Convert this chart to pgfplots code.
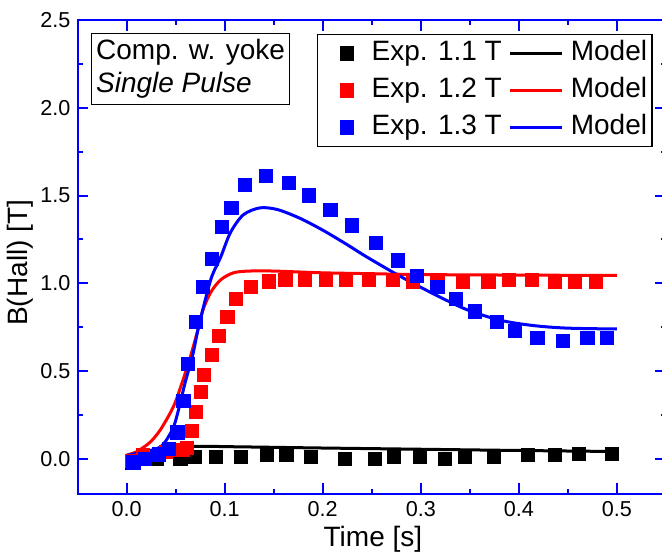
\documentclass[border=0pt]{standalone}
\usepackage{fontspec}
\setmainfont{Liberation Sans}
\usepackage{pgfplots}
\pgfplotsset{compat=1.18}
\definecolor{oblue}{RGB}{0,0,255}
\definecolor{ored}{RGB}{255,0,0}
\pgfplotsset{
 markleg/.style={legend image code/.code={\path (0pt,0pt) (24.5pt,0pt); \draw[##1] plot coordinates {(14pt,0pt)};}},
 lineleg/.style={legend image code/.code={\path (0pt,0pt) (29pt,0pt); \draw[##1] (1.5pt,0pt) -- (27.5pt,0pt);}},
}
\begin{document}
\begin{tikzpicture}
\begin{axis}[
  at={(0pt,0pt)}, anchor=south west,
  scale only axis, width=294.25pt, height=237pt,
  xmin=-0.05, xmax=0.55, ymin=-0.2, ymax=2.5,
  xtick={0,0.1,0.2,0.3,0.4,0.5}, ytick={0,0.5,1,1.5,2,2.5},
  minor x tick num=1, minor y tick num=1,
  tick align=inside,
  major tick length=5.3pt, minor tick length=2.7pt,
  axis line style={oblue, line width=1pt},
  every tick/.style={oblue, line width=1pt},
  /pgf/number format/assume math mode=true,
  xticklabel style={/pgf/number format/fixed,/pgf/number format/fixed zerofill,/pgf/number format/precision=1, font=\fontsize{10.8}{13}\selectfont},
  yticklabel style={/pgf/number format/fixed,/pgf/number format/fixed zerofill,/pgf/number format/precision=1, font=\fontsize{10.8}{13}\selectfont},
  xlabel={Time [s]}, ylabel={B(Hall) [T]},
  label style={font=\fontsize{14}{16}\selectfont},
  xlabel style={at={(axis description cs:0.502,-0.095)}, anchor=center},
  ylabel style={at={(axis description cs:-0.0977,0.488)}, anchor=center},
  legend columns=2,
  legend cell align=left,
  legend style={
    at={(axis description cs:0.9774,0.9705)}, anchor=north east,
    draw=black, line width=0.6pt, fill=white,
    font=\fontsize{14}{14}\selectfont,
    inner xsep=0.5pt, inner ysep=2pt,
    row sep=3.5pt, column sep=0pt,
    nodes={inner xsep=2pt, inner ysep=1pt, text height=10pt, text depth=3pt},
  },
  every axis plot/.append style={line width=1.5pt},
]
% Exp 1.1 T
\addplot[only marks, mark=square*, mark size=3.3pt, black, line width=0pt, markleg]
 coordinates {(0.006,-0.02)(0.031,0.0)(0.055,0.0)(0.070,0.01)(0.091,0.01)(0.117,0.01)(0.143,0.02)(0.163,0.02)(0.188,0.01)(0.223,0.0)(0.253,0.0)(0.273,0.01)(0.299,0.01)(0.325,0.0)(0.345,0.01)(0.375,0.01)(0.409,0.02)(0.437,0.02)(0.461,0.03)(0.495,0.03)};
\addlegendentry{Exp. 1.1 T}
\addplot[black, smooth, no marks, lineleg]
 coordinates {(0,0.02)(0.02,0.035)(0.04,0.06)(0.06,0.07)(0.08,0.072)(0.1,0.07)(0.15,0.066)(0.2,0.062)(0.3,0.055)(0.4,0.048)(0.5,0.042)};
\addlegendentry{Model}
% Exp 1.2 T
\addplot[only marks, mark=square*, mark size=3.3pt, ored, line width=0pt, markleg]
 coordinates {(0.006,-0.01)(0.017,0.02)(0.040,0.04)(0.050,0.05)(0.057,0.05)(0.062,0.06)(0.067,0.157)(0.071,0.265)(0.076,0.38)(0.079,0.48)(0.087,0.59)(0.094,0.70)(0.103,0.81)(0.112,0.91)(0.127,0.98)(0.145,1.01)(0.162,1.02)(0.182,1.02)(0.203,1.02)(0.224,1.02)(0.247,1.02)(0.272,1.02)(0.292,1.01)(0.317,1.02)(0.343,1.01)(0.369,1.01)(0.390,1.02)(0.413,1.02)(0.437,1.01)(0.457,1.01)(0.479,1.01)};
\addlegendentry{Exp. 1.2 T}
\addplot[ored, smooth, no marks, lineleg]
 coordinates {(0,0.02)(0.01,0.04)(0.017,0.065)(0.025,0.1)(0.035,0.17)(0.048,0.30)(0.057,0.44)(0.065,0.58)(0.072,0.72)(0.078,0.85)(0.086,0.95)(0.096,1.02)(0.109,1.06)(0.125,1.07)(0.15,1.07)(0.2,1.06)(0.25,1.055)(0.3,1.05)(0.4,1.047)(0.5,1.045)};
\addlegendentry{Model}
% Exp 1.3 T
\addplot[only marks, mark=square*, mark size=3.3pt, oblue, line width=0pt, markleg]
 coordinates {(0.007,-0.02)(0.019,0.0)(0.033,0.025)(0.043,0.055)(0.052,0.15)(0.058,0.33)(0.063,0.54)(0.071,0.78)(0.078,0.98)(0.087,1.14)(0.097,1.32)(0.107,1.43)(0.121,1.56)(0.142,1.61)(0.166,1.57)(0.186,1.50)(0.208,1.42)(0.230,1.33)(0.254,1.23)(0.277,1.13)(0.296,1.04)(0.317,0.98)(0.336,0.91)(0.355,0.84)(0.378,0.78)(0.396,0.73)(0.419,0.69)(0.445,0.67)(0.470,0.69)(0.490,0.69)};
\addlegendentry{Exp. 1.3 T}
\addplot[oblue, smooth, no marks, lineleg]
 coordinates {(0,0.02)(0.017,0.04)(0.035,0.07)(0.047,0.17)(0.053,0.28)(0.060,0.44)(0.067,0.58)(0.073,0.74)(0.080,0.90)(0.087,1.04)(0.096,1.15)(0.106,1.29)(0.119,1.39)(0.136,1.43)(0.154,1.42)(0.177,1.37)(0.201,1.30)(0.225,1.22)(0.245,1.15)(0.279,1.04)(0.313,0.94)(0.347,0.85)(0.381,0.79)(0.414,0.76)(0.449,0.745)(0.5,0.74)};
\addlegendentry{Model}
\node[draw=black, line width=0.6pt, fill=white, anchor=north west, align=left,
  font=\fontsize{14}{16.5}\selectfont, inner xsep=2.3pt, inner ysep=3pt]
  at (axis description cs:0.0229,0.9726) {Comp. w. yoke\\\textit{Single Pulse}};
\end{axis}
\pgfresetboundingbox
\path[use as bounding box] (-38.75pt,-30pt) rectangle (292.25pt,247pt);
\end{tikzpicture}
\end{document}
